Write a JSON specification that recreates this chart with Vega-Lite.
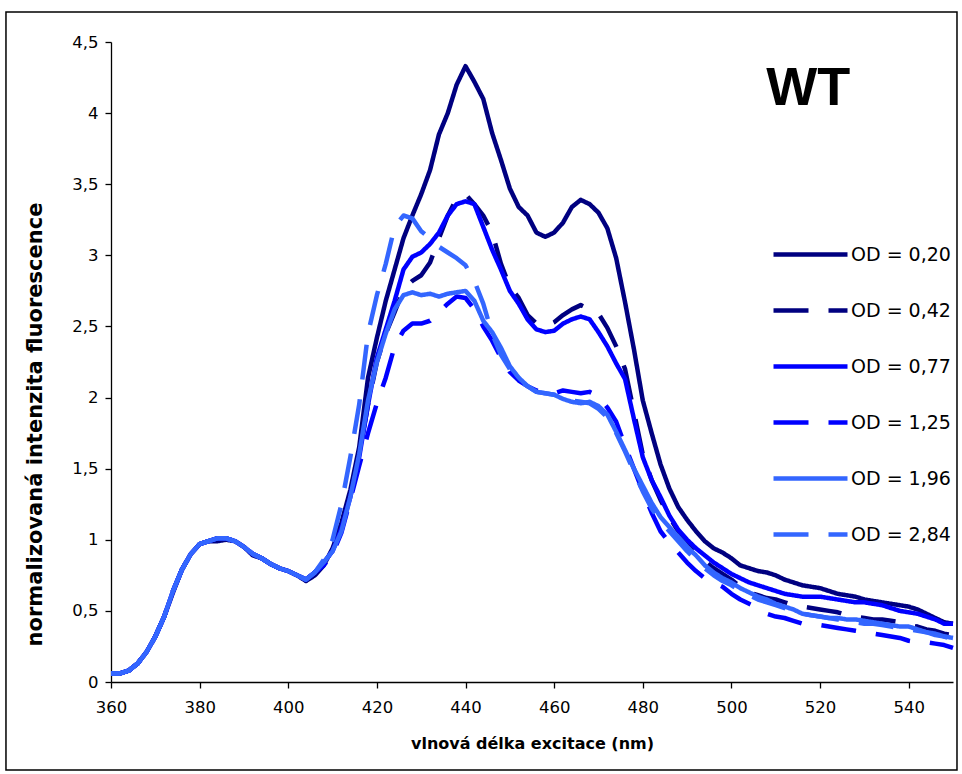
{
  "$schema": "https://vega.github.io/schema/vega-lite/v6.json",
  "width": 842,
  "height": 640,
  "autosize": {"type": "none"},
  "padding": {"left": 111, "top": 42, "right": 9, "bottom": 92},
  "background": "white",
  "config": {"view": {"stroke": null}, "font": "DejaVu Sans"},
  "datasets": {
    "spectra": [
      {"nm": 360, "od020": 0.06, "od042": 0.06, "od077": 0.06, "od125": 0.06, "od196": 0.06, "od284": 0.06},
      {"nm": 362, "od020": 0.06, "od042": 0.06, "od077": 0.06, "od125": 0.06, "od196": 0.06, "od284": 0.06},
      {"nm": 364, "od020": 0.08, "od042": 0.08, "od077": 0.08, "od125": 0.08, "od196": 0.08, "od284": 0.08},
      {"nm": 366, "od020": 0.13, "od042": 0.13, "od077": 0.13, "od125": 0.13, "od196": 0.13, "od284": 0.13},
      {"nm": 368, "od020": 0.21, "od042": 0.21, "od077": 0.21, "od125": 0.21, "od196": 0.21, "od284": 0.21},
      {"nm": 370, "od020": 0.32, "od042": 0.32, "od077": 0.32, "od125": 0.32, "od196": 0.32, "od284": 0.32},
      {"nm": 372, "od020": 0.46, "od042": 0.46, "od077": 0.46, "od125": 0.46, "od196": 0.46, "od284": 0.46},
      {"nm": 374, "od020": 0.63, "od042": 0.64, "od077": 0.64, "od125": 0.64, "od196": 0.64, "od284": 0.64},
      {"nm": 376, "od020": 0.79, "od042": 0.79, "od077": 0.79, "od125": 0.79, "od196": 0.79, "od284": 0.79},
      {"nm": 378, "od020": 0.90, "od042": 0.90, "od077": 0.90, "od125": 0.90, "od196": 0.90, "od284": 0.90},
      {"nm": 380, "od020": 0.97, "od042": 0.97, "od077": 0.97, "od125": 0.97, "od196": 0.97, "od284": 0.97},
      {"nm": 382, "od020": 0.99, "od042": 0.99, "od077": 0.99, "od125": 0.99, "od196": 0.99, "od284": 0.99},
      {"nm": 384, "od020": 0.99, "od042": 1.01, "od077": 1.01, "od125": 1.01, "od196": 1.01, "od284": 1.01},
      {"nm": 386, "od020": 1.00, "od042": 1.01, "od077": 1.01, "od125": 1.01, "od196": 1.01, "od284": 1.01},
      {"nm": 388, "od020": 0.99, "od042": 0.99, "od077": 0.99, "od125": 0.99, "od196": 0.99, "od284": 0.99},
      {"nm": 390, "od020": 0.95, "od042": 0.94, "od077": 0.95, "od125": 0.95, "od196": 0.95, "od284": 0.95},
      {"nm": 392, "od020": 0.89, "od042": 0.90, "od077": 0.90, "od125": 0.90, "od196": 0.90, "od284": 0.90},
      {"nm": 394, "od020": 0.87, "od042": 0.87, "od077": 0.87, "od125": 0.87, "od196": 0.87, "od284": 0.87},
      {"nm": 396, "od020": 0.83, "od042": 0.83, "od077": 0.83, "od125": 0.83, "od196": 0.83, "od284": 0.83},
      {"nm": 398, "od020": 0.80, "od042": 0.80, "od077": 0.80, "od125": 0.80, "od196": 0.80, "od284": 0.80},
      {"nm": 400, "od020": 0.78, "od042": 0.78, "od077": 0.78, "od125": 0.78, "od196": 0.78, "od284": 0.78},
      {"nm": 402, "od020": 0.75, "od042": 0.75, "od077": 0.75, "od125": 0.75, "od196": 0.75, "od284": 0.75},
      {"nm": 404, "od020": 0.71, "od042": 0.72, "od077": 0.72, "od125": 0.72, "od196": 0.72, "od284": 0.72},
      {"nm": 406, "od020": 0.75, "od042": 0.77, "od077": 0.77, "od125": 0.77, "od196": 0.77, "od284": 0.77},
      {"nm": 408, "od020": 0.82, "od042": 0.84, "od077": 0.84, "od125": 0.82, "od196": 0.84, "od284": 0.86},
      {"nm": 410, "od020": 0.94, "od042": 0.92, "od077": 0.92, "od125": 0.90, "od196": 0.92, "od284": 1.00},
      {"nm": 412, "od020": 1.12, "od042": 1.10, "od077": 1.08, "od125": 1.05, "od196": 1.06, "od284": 1.25},
      {"nm": 414, "od020": 1.35, "od042": 1.32, "od077": 1.30, "od125": 1.28, "od196": 1.30, "od284": 1.58},
      {"nm": 416, "od020": 1.65, "od042": 1.60, "od077": 1.58, "od125": 1.52, "od196": 1.60, "od284": 1.95},
      {"nm": 418, "od020": 2.14, "od042": 1.95, "od077": 1.95, "od125": 1.75, "od196": 1.98, "od284": 2.45},
      {"nm": 420, "od020": 2.42, "od042": 2.25, "od077": 2.28, "od125": 1.96, "od196": 2.25, "od284": 2.72},
      {"nm": 422, "od020": 2.68, "od042": 2.45, "od077": 2.48, "od125": 2.14, "od196": 2.45, "od284": 2.94},
      {"nm": 424, "od020": 2.90, "od042": 2.60, "od077": 2.68, "od125": 2.36, "od196": 2.62, "od284": 3.20},
      {"nm": 426, "od020": 3.12, "od042": 2.76, "od077": 2.90, "od125": 2.47, "od196": 2.72, "od284": 3.28},
      {"nm": 428, "od020": 3.28, "od042": 2.82, "od077": 2.99, "od125": 2.52, "od196": 2.74, "od284": 3.26},
      {"nm": 430, "od020": 3.43, "od042": 2.86, "od077": 3.02, "od125": 2.52, "od196": 2.72, "od284": 3.17},
      {"nm": 432, "od020": 3.60, "od042": 2.95, "od077": 3.08, "od125": 2.54, "od196": 2.73, "od284": 3.12},
      {"nm": 434, "od020": 3.85, "od042": 3.12, "od077": 3.16, "od125": 2.60, "od196": 2.71, "od284": 3.06},
      {"nm": 436, "od020": 4.00, "od042": 3.28, "od077": 3.28, "od125": 2.66, "od196": 2.73, "od284": 3.02},
      {"nm": 438, "od020": 4.20, "od042": 3.40, "od077": 3.36, "od125": 2.71, "od196": 2.74, "od284": 2.98},
      {"nm": 440, "od020": 4.33, "od042": 3.43, "od077": 3.38, "od125": 2.70, "od196": 2.75, "od284": 2.93},
      {"nm": 442, "od020": 4.22, "od042": 3.36, "od077": 3.36, "od125": 2.62, "od196": 2.68, "od284": 2.82},
      {"nm": 444, "od020": 4.10, "od042": 3.28, "od077": 3.20, "od125": 2.50, "od196": 2.54, "od284": 2.66},
      {"nm": 446, "od020": 3.86, "od042": 3.16, "od077": 3.04, "od125": 2.40, "od196": 2.46, "od284": 2.45},
      {"nm": 448, "od020": 3.67, "od042": 2.94, "od077": 2.90, "od125": 2.28, "od196": 2.35, "od284": 2.30},
      {"nm": 450, "od020": 3.47, "od042": 2.78, "od077": 2.75, "od125": 2.18, "od196": 2.22, "od284": 2.20},
      {"nm": 452, "od020": 3.34, "od042": 2.70, "od077": 2.66, "od125": 2.12, "od196": 2.14, "od284": 2.12},
      {"nm": 454, "od020": 3.28, "od042": 2.58, "od077": 2.55, "od125": 2.08, "od196": 2.08, "od284": 2.08},
      {"nm": 456, "od020": 3.16, "od042": 2.52, "od077": 2.48, "od125": 2.05, "od196": 2.04, "od284": 2.04},
      {"nm": 458, "od020": 3.13, "od042": 2.50, "od077": 2.46, "od125": 2.03, "od196": 2.03, "od284": 2.03},
      {"nm": 460, "od020": 3.16, "od042": 2.53, "od077": 2.47, "od125": 2.03, "od196": 2.02, "od284": 2.02},
      {"nm": 462, "od020": 3.23, "od042": 2.58, "od077": 2.52, "od125": 2.05, "od196": 1.99, "od284": 2.00},
      {"nm": 464, "od020": 3.34, "od042": 2.62, "od077": 2.55, "od125": 2.04, "od196": 1.97, "od284": 1.98},
      {"nm": 466, "od020": 3.39, "od042": 2.65, "od077": 2.57, "od125": 2.03, "od196": 1.96, "od284": 1.97},
      {"nm": 468, "od020": 3.36, "od042": 2.62, "od077": 2.55, "od125": 2.04, "od196": 1.97, "od284": 1.96},
      {"nm": 470, "od020": 3.30, "od042": 2.59, "od077": 2.46, "od125": 2.01, "od196": 1.94, "od284": 1.92},
      {"nm": 472, "od020": 3.19, "od042": 2.49, "od077": 2.36, "od125": 1.93, "od196": 1.88, "od284": 1.86},
      {"nm": 474, "od020": 2.98, "od042": 2.36, "od077": 2.24, "od125": 1.83, "od196": 1.76, "od284": 1.75},
      {"nm": 476, "od020": 2.67, "od042": 2.20, "od077": 2.13, "od125": 1.66, "od196": 1.63, "od284": 1.62},
      {"nm": 478, "od020": 2.34, "od042": 1.90, "od077": 1.85, "od125": 1.50, "od196": 1.50, "od284": 1.48},
      {"nm": 480, "od020": 1.98, "od042": 1.60, "od077": 1.58, "od125": 1.34, "od196": 1.38, "od284": 1.34},
      {"nm": 482, "od020": 1.75, "od042": 1.42, "od077": 1.42, "od125": 1.19, "od196": 1.26, "od284": 1.22},
      {"nm": 484, "od020": 1.53, "od042": 1.28, "od077": 1.30, "od125": 1.06, "od196": 1.16, "od284": 1.13},
      {"nm": 486, "od020": 1.36, "od042": 1.16, "od077": 1.17, "od125": 0.98, "od196": 1.09, "od284": 1.06},
      {"nm": 488, "od020": 1.23, "od042": 1.06, "od077": 1.07, "od125": 0.91, "od196": 1.02, "od284": 0.99},
      {"nm": 490, "od020": 1.14, "od042": 0.98, "od077": 1.00, "od125": 0.84, "od196": 0.95, "od284": 0.92},
      {"nm": 492, "od020": 1.06, "od042": 0.91, "od077": 0.94, "od125": 0.78, "od196": 0.89, "od284": 0.86},
      {"nm": 494, "od020": 0.99, "od042": 0.85, "od077": 0.89, "od125": 0.73, "od196": 0.82, "od284": 0.80},
      {"nm": 496, "od020": 0.94, "od042": 0.80, "od077": 0.84, "od125": 0.70, "od196": 0.77, "od284": 0.75},
      {"nm": 498, "od020": 0.91, "od042": 0.76, "od077": 0.80, "od125": 0.67, "od196": 0.73, "od284": 0.71},
      {"nm": 500, "od020": 0.87, "od042": 0.72, "od077": 0.76, "od125": 0.62, "od196": 0.70, "od284": 0.68},
      {"nm": 502, "od020": 0.82, "od042": 0.67, "od077": 0.73, "od125": 0.58, "od196": 0.66, "od284": 0.64},
      {"nm": 504, "od020": 0.80, "od042": 0.63, "od077": 0.70, "od125": 0.55, "od196": 0.63, "od284": 0.61},
      {"nm": 506, "od020": 0.78, "od042": 0.61, "od077": 0.68, "od125": 0.52, "od196": 0.60, "od284": 0.58},
      {"nm": 508, "od020": 0.77, "od042": 0.59, "od077": 0.66, "od125": 0.48, "od196": 0.58, "od284": 0.56},
      {"nm": 510, "od020": 0.75, "od042": 0.58, "od077": 0.64, "od125": 0.46, "od196": 0.55, "od284": 0.54},
      {"nm": 512, "od020": 0.72, "od042": 0.56, "od077": 0.62, "od125": 0.45, "od196": 0.53, "od284": 0.52},
      {"nm": 514, "od020": 0.70, "od042": 0.54, "od077": 0.61, "od125": 0.43, "od196": 0.51, "od284": 0.50},
      {"nm": 516, "od020": 0.68, "od042": 0.53, "od077": 0.60, "od125": 0.41, "od196": 0.48, "od284": 0.48},
      {"nm": 518, "od020": 0.67, "od042": 0.52, "od077": 0.60, "od125": 0.40, "od196": 0.47, "od284": 0.47},
      {"nm": 520, "od020": 0.66, "od042": 0.51, "od077": 0.60, "od125": 0.40, "od196": 0.46, "od284": 0.46},
      {"nm": 522, "od020": 0.64, "od042": 0.50, "od077": 0.59, "od125": 0.39, "od196": 0.45, "od284": 0.45},
      {"nm": 524, "od020": 0.62, "od042": 0.49, "od077": 0.58, "od125": 0.38, "od196": 0.45, "od284": 0.44},
      {"nm": 526, "od020": 0.61, "od042": 0.47, "od077": 0.57, "od125": 0.37, "od196": 0.44, "od284": 0.43},
      {"nm": 528, "od020": 0.60, "od042": 0.46, "od077": 0.56, "od125": 0.36, "od196": 0.44, "od284": 0.42},
      {"nm": 530, "od020": 0.58, "od042": 0.45, "od077": 0.56, "od125": 0.35, "od196": 0.43, "od284": 0.41},
      {"nm": 532, "od020": 0.57, "od042": 0.44, "od077": 0.55, "od125": 0.34, "od196": 0.42, "od284": 0.41},
      {"nm": 534, "od020": 0.56, "od042": 0.44, "od077": 0.54, "od125": 0.33, "od196": 0.41, "od284": 0.40},
      {"nm": 536, "od020": 0.55, "od042": 0.43, "od077": 0.52, "od125": 0.32, "od196": 0.40, "od284": 0.39},
      {"nm": 538, "od020": 0.54, "od042": 0.42, "od077": 0.50, "od125": 0.31, "od196": 0.39, "od284": 0.38},
      {"nm": 540, "od020": 0.53, "od042": 0.40, "od077": 0.49, "od125": 0.29, "od196": 0.39, "od284": 0.37},
      {"nm": 542, "od020": 0.51, "od042": 0.39, "od077": 0.48, "od125": 0.28, "od196": 0.37, "od284": 0.36},
      {"nm": 544, "od020": 0.48, "od042": 0.37, "od077": 0.46, "od125": 0.28, "od196": 0.35, "od284": 0.35},
      {"nm": 546, "od020": 0.45, "od042": 0.36, "od077": 0.44, "od125": 0.27, "od196": 0.34, "od284": 0.33},
      {"nm": 548, "od020": 0.42, "od042": 0.34, "od077": 0.41, "od125": 0.26, "od196": 0.32, "od284": 0.32},
      {"nm": 550, "od020": 0.41, "od042": 0.33, "od077": 0.41, "od125": 0.24, "od196": 0.31, "od284": 0.30}
    ]
  },
  "layer": [
    {
      "description": "Chart-area border",
      "data": {"values": [{}]},
      "mark": {"type": "rect", "fill": null, "stroke": "black", "strokeWidth": 1.5},
      "encoding": {
        "x": {"datum": 336.3, "type": "quantitative", "scale": {"domain": [360, 550], "nice": false, "zero": false}},
        "x2": {"datum": 550.9},
        "y": {"datum": 4.711, "type": "quantitative", "scale": {"domain": [0, 4.5], "nice": false, "zero": false}},
        "y2": {"datum": -0.619}
      }
    },
    {
      "description": "Strain label in the upper right of the plot",
      "data": {"values": [{"label": "WT"}]},
      "mark": {"type": "text", "align": "right", "baseline": "alphabetic", "font": "Liberation Sans", "fontSize": 54, "fontWeight": "bold", "color": "black"},
      "encoding": {
        "x": {"datum": 526.8, "type": "quantitative"},
        "y": {"datum": 4.057, "type": "quantitative"},
        "text": {"field": "label"}
      }
    },
    {
      "data": {"name": "spectra"},
      "transform": [
        {"fold": ["od020", "od042", "od077", "od125", "od196", "od284"], "as": ["series", "value"]}
      ],
      "mark": {"type": "line", "strokeWidth": 4.5, "strokeJoin": "round", "strokeCap": "butt"},
      "encoding": {
        "x": {
          "field": "nm",
          "type": "quantitative",
          "scale": {"domain": [360, 550], "nice": false, "zero": false},
          "axis": {
            "values": [360, 380, 400, 420, 440, 460, 480, 500, 520, 540],
            "grid": false,
            "domainColor": "black",
            "domainWidth": 1.3,
            "tickColor": "black",
            "tickWidth": 1.3,
            "tickSize": 6,
            "labelFont": "DejaVu Sans",
            "labelFontSize": 16.5,
            "labelColor": "black",
            "labelPadding": 11,
            "labelFlush": false,
            "title": "vlnová délka excitace (nm)",
            "titleFont": "DejaVu Sans",
            "titleFontSize": 16,
            "titleFontWeight": "bold",
            "titleColor": "black",
            "titlePadding": 20
          }
        },
        "y": {
          "field": "value",
          "type": "quantitative",
          "scale": {"domain": [0, 4.5], "nice": false, "zero": false},
          "axis": {
            "values": [0, 0.5, 1, 1.5, 2, 2.5, 3, 3.5, 4, 4.5],
            "labelExpr": "replace(format(datum.value, '~g'), '.', ',')",
            "grid": false,
            "domainColor": "black",
            "domainWidth": 1.3,
            "tickColor": "black",
            "tickWidth": 1.3,
            "tickSize": 6,
            "labelFont": "DejaVu Sans",
            "labelFontSize": 16.5,
            "labelColor": "black",
            "labelPadding": 7,
            "labelFlush": false,
            "title": "normalizovaná intenzita fluorescence",
            "titleFont": "DejaVu Sans",
            "titleFontSize": 21,
            "titleFontWeight": "bold",
            "titleColor": "black",
            "titleAngle": -90,
            "titleAlign": "center",
            "titleBaseline": "middle",
            "titleX": -76,
            "titleY": 382
          }
        },
        "color": {
          "field": "series",
          "type": "nominal",
          "scale": {
            "domain": ["od020", "od042", "od077", "od125", "od196", "od284"],
            "range": ["#000080", "#000080", "#0000ff", "#0000ff", "#3366ff", "#3366ff"]
          },
          "legend": {
            "title": null,
            "orient": "none",
            "legendX": 660,
            "legendY": 173,
            "padding": 0,
            "symbolType": "stroke",
            "symbolSize": 5476,
            "symbolStrokeWidth": 4.5,
            "rowPadding": 6,
            "labelOffset": 1,
            "labelFont": "DejaVu Sans",
            "labelFontSize": 19,
            "labelColor": "black",
            "labelLimit": 200,
            "labelExpr": "{'od020': 'OD = 0,20', 'od042': 'OD = 0,42', 'od077': 'OD = 0,77', 'od125': 'OD = 1,25', 'od196': 'OD = 1,96', 'od284': 'OD = 2,84'}[datum.label]"
          }
        },
        "strokeDash": {
          "field": "series",
          "type": "nominal",
          "scale": {
            "domain": ["od020", "od042", "od077", "od125", "od196", "od284"],
            "range": [[1, 0], [35, 20], [1, 0], [35, 20], [1, 0], [35, 20]]
          },
          "legend": {
            "title": null,
            "orient": "none",
            "legendX": 660,
            "legendY": 173,
            "padding": 0,
            "symbolType": "stroke",
            "symbolSize": 5476,
            "symbolStrokeWidth": 4.5,
            "rowPadding": 6,
            "labelOffset": 1,
            "labelFont": "DejaVu Sans",
            "labelFontSize": 19,
            "labelColor": "black",
            "labelLimit": 200,
            "labelExpr": "{'od020': 'OD = 0,20', 'od042': 'OD = 0,42', 'od077': 'OD = 0,77', 'od125': 'OD = 1,25', 'od196': 'OD = 1,96', 'od284': 'OD = 2,84'}[datum.label]"
          }
        }
      }
    }
  ]
}
